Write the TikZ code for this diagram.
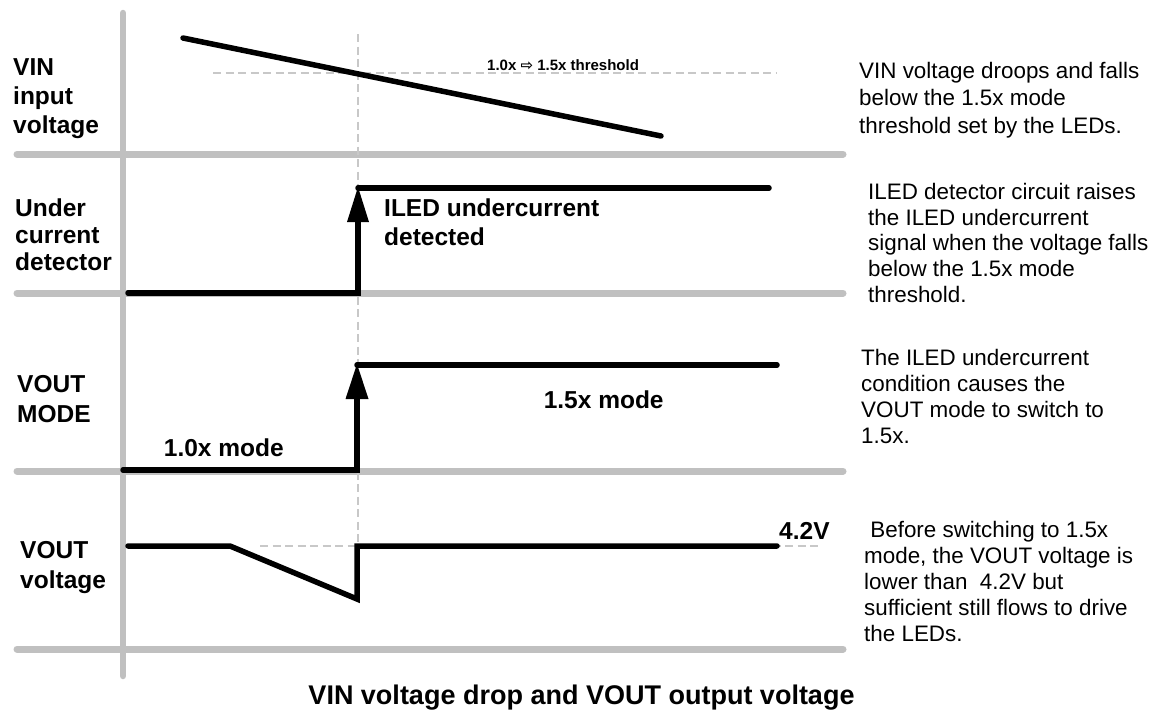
\documentclass[tikz,border=0pt]{standalone}
\usepackage{fontspec}
\setmainfont{Liberation Sans}
\newfontfamily\arrowfont{DejaVu Sans}
\usetikzlibrary{arrows.meta}
\definecolor{axisgray}{HTML}{C0C0C0}
\definecolor{dashgray}{HTML}{C8C8C8}
\begin{document}
\begin{tikzpicture}[x=1pt,y=-1pt,
  gridline/.style={draw=axisgray, line width=7pt, line cap=round},
  axisline/.style={draw=axisgray, line width=6.5pt, line cap=round},
  sig/.style={draw=black, line width=5.5pt},
  guide/.style={draw=dashgray, line width=2.5pt, dash pattern=on 8pt off 4.5pt},
  head/.style={fill=black},
  rowlbl/.style={inner sep=0pt, anchor=north west, align=left, font=\bfseries\fontsize{24.5}{29}\selectfont},
  note/.style={inner sep=0pt, anchor=north west, align=left},
  blbl/.style={inner sep=0pt, anchor=base west, font=\bfseries\fontsize{24.5}{29}\selectfont}
]
\useasboundingbox (0,0) rectangle (1151,713);

% grid
\draw[gridline] (17,154) -- (843,154);
\draw[gridline] (17,293) -- (843,293);
\draw[gridline] (17,471) -- (843,471);
\draw[gridline] (17,649) -- (843,649);
\draw[axisline] (123,13) -- (123,676);

% guides
\draw[guide] (213,73) -- (776,73);
\draw[guide] (358,34) -- (358,545);
\draw[guide] (260,546) -- (821,546);

% VIN
\draw[sig, line cap=round] (183,38) -- (661,136);

% Under current
\draw[sig, line cap=round] (128,293) -- (358,293) -- (358,215);
\draw[sig, line cap=round] (358,188) -- (769,188);
\fill[head] (358,187) -- (347,222) -- (369,222) -- cycle;

% VOUT mode
\draw[sig, line cap=round] (123,470) -- (357,470) -- (357,392);
\draw[sig, line cap=round] (357,365) -- (777,365);
\fill[head] (357,364) -- (345.5,399) -- (368.5,399) -- cycle;

% VOUT voltage
\draw[sig, line cap=round, line join=miter] (128,546) -- (230,546) -- (357,599) -- (357,546) -- (777,546);

% left labels
\node[rowlbl] (l1) at (13,58.4) {VIN\\input\\voltage};
\node[rowlbl, font=\bfseries\fontsize{24.5}{27}\selectfont] (l2) at (15,198.9) {Under\\current\\detector};
\node[rowlbl, font=\bfseries\fontsize{24.5}{30}\selectfont] (l3) at (17,374.9) {VOUT\\MODE};
\node[rowlbl, font=\bfseries\fontsize{24.5}{29.5}\selectfont] (l4) at (20,541.4) {VOUT\\voltage};

% inner labels
\node[inner sep=0pt, anchor=base west, font=\bfseries\fontsize{15}{18}\selectfont] (thr) at (487,70.7) {1.0x {\arrowfont\bfseries ⇨} 1.5x threshold};
\node[rowlbl, font=\bfseries\fontsize{24.5}{28.3}\selectfont] (iled) at (384,199) {ILED undercurrent\\detected};
\node[blbl] (m15) at (543.6,408.3) {1.5x mode};
\node[blbl] (m10) at (163.7,456.7) {1.0x mode};
\node[blbl] (v42) at (779,539) {4.2V};

% notes
\node[note, font=\fontsize{22.4}{27.2}\selectfont] (n1) at (859,62.2) {VIN voltage droops and falls\\below the 1.5x mode\\threshold set by the LEDs.};
\node[note, font=\fontsize{22.4}{25.6}\selectfont] (n2) at (868,183.2) {ILED detector circuit raises\\the ILED undercurrent\\signal when the voltage falls\\below the 1.5x mode\\threshold.};
\node[note, font=\fontsize{22.4}{26}\selectfont] (n3) at (861,348.9) {The ILED undercurrent\\condition causes the\\VOUT mode to switch to\\1.5x.};
\node[note, font=\fontsize{22.4}{26}\selectfont] (n4) at (864,521.2) {\hspace{6.2pt}Before switching to 1.5x\\mode, the VOUT voltage is\\lower than \ 4.2V but\\sufficient still flows to drive\\the LEDs.};

% title
\node[inner sep=0pt, anchor=base, font=\bfseries\fontsize{27}{31}\selectfont] (title) at (581.5,704) {VIN voltage drop and VOUT output voltage};
\end{tikzpicture}
\end{document}
